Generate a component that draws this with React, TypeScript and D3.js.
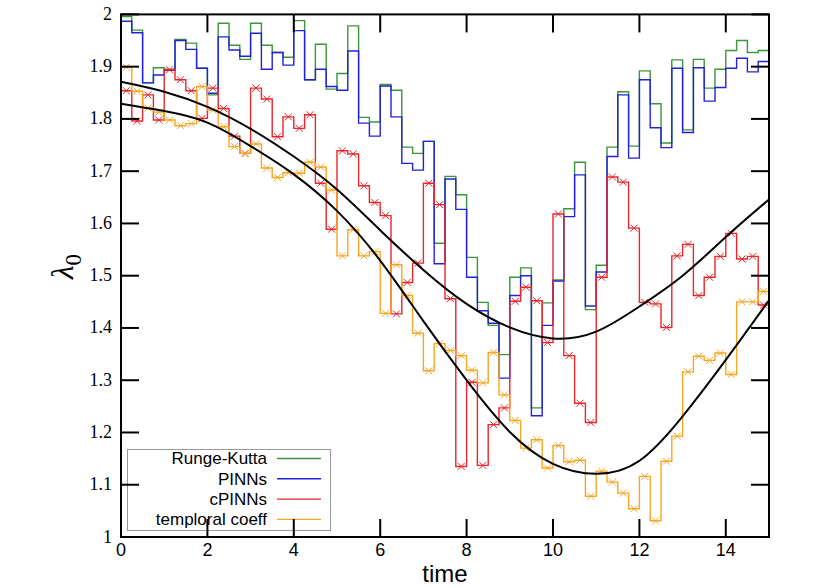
import React from 'react';
import * as d3 from 'd3';

const W = 830;
const H = 587;
const T_END = 15;
const BIN = 0.25;

const rungeKutta = [
  1.996, 1.970, 1.869, 1.898, 1.895, 1.952, 1.945, 1.897, 1.846, 1.983,
  1.941, 1.914, 1.983, 1.941, 1.927, 1.918, 1.988, 1.875, 1.943, 1.857,
  1.887, 1.978, 1.803, 1.794, 1.866, 1.855, 1.746, 1.734, 1.757, 1.562,
  1.690, 1.655, 1.535, 1.449, 1.405, 1.349, 1.497, 1.515, 1.247, 1.448,
  1.492, 1.628, 1.717, 1.435, 1.520, 1.746, 1.852, 1.748, 1.892, 1.829,
  1.754, 1.913, 1.779, 1.914, 1.859, 1.895, 1.931, 1.950, 1.927, 1.931,
];
const pinns = [
  1.987, 1.965, 1.869, 1.884, 1.893, 1.950, 1.933, 1.897, 1.849, 1.957,
  1.932, 1.920, 1.964, 1.895, 1.927, 1.903, 1.969, 1.875, 1.895, 1.862,
  1.855, 1.930, 1.792, 1.767, 1.863, 1.804, 1.715, 1.702, 1.757, 1.523,
  1.685, 1.627, 1.497, 1.433, 1.409, 1.304, 1.462, 1.500, 1.232, 1.405,
  1.490, 1.613, 1.693, 1.442, 1.507, 1.728, 1.846, 1.725, 1.875, 1.783,
  1.745, 1.897, 1.774, 1.898, 1.834, 1.860, 1.897, 1.916, 1.890, 1.910,
];
const cpinns = [
  1.854, 1.796, 1.846, 1.798, 1.894, 1.875, 1.854, 1.801, 1.859, 1.820,
  1.767, 1.734, 1.859, 1.838, 1.766, 1.804, 1.782, 1.808, 1.677, 1.589,
  1.739, 1.733, 1.672, 1.640, 1.615, 1.427, 1.487, 1.524, 1.677, 1.636,
  1.456, 1.135, 1.296, 1.137, 1.215, 1.247, 1.451, 1.478, 1.452, 1.372,
  1.618, 1.347, 1.256, 1.219, 1.497, 1.689, 1.679, 1.591, 1.449, 1.446,
  1.401, 1.538, 1.560, 1.462, 1.497, 1.537, 1.581, 1.532, 1.537, 1.444,
];
const temporal = [
  1.899, 1.853, 1.821, 1.813, 1.798, 1.787, 1.791, 1.862, 1.817, 1.785,
  1.747, 1.734, 1.752, 1.706, 1.688, 1.697, 1.696, 1.717, 1.708, 1.664,
  1.538, 1.588, 1.538, 1.546, 1.428, 1.521, 1.462, 1.390, 1.318, 1.370,
  1.357, 1.347, 1.319, 1.295, 1.353, 1.272, 1.223, 1.170, 1.186, 1.132,
  1.175, 1.144, 1.147, 1.078, 1.126, 1.105, 1.084, 1.054, 1.116, 1.031,
  1.145, 1.193, 1.316, 1.346, 1.338, 1.352, 1.311, 1.450, 1.450, 1.470,
];

const exactT = [0, 1, 2, 3, 4, 5, 6, 7, 8, 9, 10, 11, 12, 13, 14, 15];
const exactUpper = [1.871, 1.852, 1.823, 1.781, 1.728, 1.665, 1.587, 1.511, 1.446, 1.401, 1.380, 1.393, 1.441, 1.500, 1.574, 1.646];
const exactLower = [1.829, 1.815, 1.793, 1.748, 1.694, 1.624, 1.529, 1.413, 1.300, 1.201, 1.140, 1.121, 1.146, 1.231, 1.339, 1.453];

const xTicks = [0, 2, 4, 6, 8, 10, 12, 14];
const xTickLabels = ['0', '2', '4', '6', '8', '10', '12', '14'];
const yTicks = [1, 1.1, 1.2, 1.3, 1.4, 1.5, 1.6, 1.7, 1.8, 1.9, 2];
const yTickLabels = ['1', '1.1', '1.2', '1.3', '1.4', '1.5', '1.6', '1.7', '1.8', '1.9', '2'];

const seriesNames = ['Runge-Kutta', 'PINNs', 'cPINNs', 'temploral coeff'];
const seriesColors = ['#3a963a', '#2222d6', '#e8262c', '#f5a623'];
const seriesData = [rungeKutta, pinns, cpinns, temporal];
const seriesMarkers = [false, false, true, true];

export default function App() {
  const x = d3.scaleLinear().domain([0, T_END]).range([121, 769]);
  const y = d3.scaleLinear().domain([1, 2]).range([537, 14.4]);

  const stepLine = d3
    .line<[number, number]>()
    .x((d) => x(d[0]))
    .y((d) => y(d[1]))
    .curve(d3.curveStepAfter);

  const smooth = d3
    .line<[number, number]>()
    .x((d) => x(d[0]))
    .y((d) => y(d[1]))
    .curve(d3.curveNatural);

  const stepPath = (vals: number[]) => {
    const pts: [number, number][] = vals.map((v, i) => [i * BIN, v]);
    pts.push([T_END, vals[vals.length - 1]]);
    return stepLine(pts) || '';
  };

  const tickLen = 18;
  const x0 = x(0), x1 = x(T_END), y0 = y(1), y1 = y(2);
  const ms = 3.5;

  return (
    <svg
      width={W}
      height={H}
      viewBox={`0 0 ${W} ${H}`}
      style={{ position: 'absolute', left: 0, top: 0, background: '#fff' }}
    >
      <rect x={0} y={0} width={W} height={H} fill="#fff" />
      {seriesData.map((vals, si) => (
        <g key={si}>
          <path d={stepPath(vals)} fill="none" stroke={seriesColors[si]} strokeWidth={1.4} />
          {seriesMarkers[si] &&
            vals.map((v, i) => {
              const cx = x((i + 0.5) * BIN);
              const cy = y(v);
              return (
                <path
                  key={i}
                  d={`M${cx - ms},${cy - ms}L${cx + ms},${cy + ms}M${cx - ms},${cy + ms}L${cx + ms},${cy - ms}`}
                  stroke={seriesColors[si]}
                  strokeWidth={1}
                  fill="none"
                />
              );
            })}
        </g>
      ))}
      <path d={smooth(exactT.map((t, i) => [t, exactUpper[i]] as [number, number])) || ''} fill="none" stroke="#000" strokeWidth={2} />
      <path d={smooth(exactT.map((t, i) => [t, exactLower[i]] as [number, number])) || ''} fill="none" stroke="#000" strokeWidth={2} />

      <rect x={127.5} y={449.5} width={203} height={81} fill="none" stroke="#999" strokeWidth={1} />
      {seriesNames.map((n, i) => {
        const ly = 458.5 + i * 20.3;
        return (
          <g key={n}>
            <text
              x={267}
              y={ly}
              dy="0.35em"
              textAnchor="end"
              fontFamily="'Liberation Sans', Arial, sans-serif"
              fontSize={17}
              fill="#000"
            >
              {n}
            </text>
            <line x1={277} x2={321} y1={ly} y2={ly} stroke={seriesColors[i]} strokeWidth={1.4} />
          </g>
        );
      })}

      <rect x={x0} y={y1} width={x1 - x0} height={y0 - y1} fill="none" stroke="#000" strokeWidth={2} />
      {xTicks.map((t) => (
        <g key={'xt' + t}>
          <line x1={x(t)} x2={x(t)} y1={y0} y2={y0 - tickLen} stroke="#000" strokeWidth={2} />
          <line x1={x(t)} x2={x(t)} y1={y1} y2={y1 + tickLen} stroke="#000" strokeWidth={2} />
        </g>
      ))}
      {yTicks.map((v) => (
        <g key={'yt' + v}>
          <line x1={x0} x2={x0 + tickLen} y1={y(v)} y2={y(v)} stroke="#000" strokeWidth={2} />
          <line x1={x1} x2={x1 - tickLen} y1={y(v)} y2={y(v)} stroke="#000" strokeWidth={2} />
        </g>
      ))}
      {xTicks.map((t, i) => (
        <text
          key={'xl' + t}
          x={x(t)}
          y={556}
          textAnchor="middle"
          fontFamily="'Liberation Sans', Arial, sans-serif"
          fontSize={18}
          fill="#000"
        >
          {xTickLabels[i]}
        </text>
      ))}
      {yTicks.map((v, i) => (
        <text
          key={'yl' + v}
          x={112}
          y={y(v) + 5.5}
          textAnchor="end"
          fontFamily="'Liberation Serif', 'Times New Roman', serif"
          fontSize={18}
          fill="#000"
        >
          {yTickLabels[i]}
        </text>
      ))}
      <text
        x={445}
        y={582}
        textAnchor="middle"
        fontFamily="'Liberation Sans', Arial, sans-serif"
        fontSize={24}
        fill="#000"
      >
        time
      </text>
      <text
        transform="translate(73,279) rotate(-90)"
        fontFamily="'Liberation Serif', 'Times New Roman', serif"
        fill="#000"
      >
        <tspan fontSize={31} fontStyle="italic">λ</tspan>
        <tspan fontSize={23} dy={8}>0</tspan>
      </text>
    </svg>
  );
}
